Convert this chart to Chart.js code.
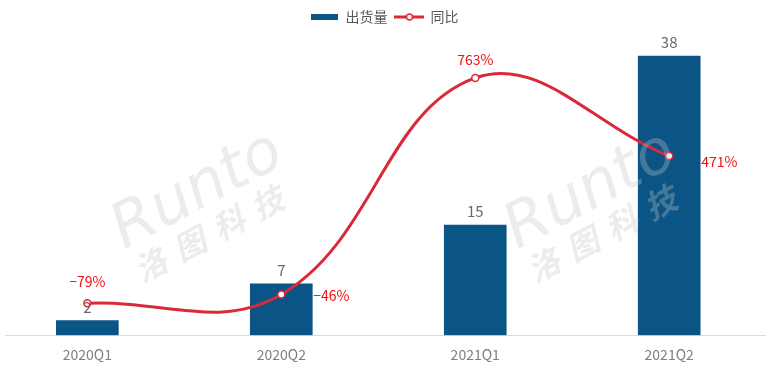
<!DOCTYPE html>
<html>
<head>
<meta charset="utf-8">
<script src="https://cdn.jsdelivr.net/npm/chart.js@4.4.1/dist/chart.umd.min.js"></script>
<style>
  html, body { margin: 0; padding: 0; background: #fff; }
  #wrap { width: 779px; height: 375px; position: relative; }
</style>
</head>
<body>
<div id="wrap"><canvas id="shipChart"></canvas></div>
<script>
// 数据
const categories = ['2020Q1', '2020Q2', '2021Q1', '2021Q2'];
const shipments = [2, 7, 15, 38];
const yoy = [-79, -46, 763, 471];
const legendNames = ['出货量', '同比'];

const colorBlue = '#0B5486';
const colorRed = '#DA2A3A';
const colorText = '#7F7F7F';
const fontFamily = '"Noto Sans CJK SC", "Noto Sans", sans-serif';

// legend icons
function makeBarIcon() {
    const c = document.createElement('canvas');
    c.width = 27; c.height = 6;
    const g = c.getContext('2d');
    g.fillStyle = colorBlue;
    g.fillRect(0, 0, 27, 6);
    return c;
}
function makeLineIcon() {
    const c = document.createElement('canvas');
    c.width = 30; c.height = 10;
    const g = c.getContext('2d');
    g.strokeStyle = colorRed;
    g.lineWidth = 3;
    g.beginPath(); g.moveTo(0, 5); g.lineTo(30, 5); g.stroke();
    g.fillStyle = '#fff';
    g.lineWidth = 1.5;
    g.beginPath(); g.arc(15, 5, 3, 0, Math.PI * 2); g.fill(); g.stroke();
    return c;
}

// 水印
const watermark = {
    id: 'watermark',
    afterDatasetsDraw(chart) {
        const ctx = chart.ctx;
        [[198, 192], [591, 192]].forEach(([x, y]) => {
            ctx.save();
            ctx.translate(x, y);
            ctx.rotate(-28 * Math.PI / 180);
            ctx.fillStyle = 'rgba(195,195,195,0.32)';
            ctx.textAlign = 'center';
            ctx.font = 'italic 62px "DejaVu Sans", sans-serif';
            ctx.fillText('Runto', 0, 0);
            ctx.font = 'italic bold 32px "Noto Sans CJK SC", sans-serif';
            ctx.letterSpacing = '12px';
            ctx.fillText('洛图科技', -4, 42);
            ctx.restore();
        });
    }
};

// 数据标签
const valueLabels = {
    id: 'valueLabels',
    afterDatasetsDraw(chart) {
        const ctx = chart.ctx;
        ctx.save();
        const bars = chart.getDatasetMeta(0).data;
        ctx.font = '15px ' + fontFamily;
        ctx.fillStyle = '#6A6A6A';
        ctx.textAlign = 'center';
        ctx.textBaseline = 'bottom';
        bars.forEach((b, i) => {
            ctx.fillText(String(shipments[i]), b.x, b.y - 6);
        });
        const pts = chart.getDatasetMeta(1).data;
        ctx.font = '14px ' + fontFamily;
        ctx.fillStyle = '#F01010';
        const place = ['top', 'right', 'top', 'right'];
        const dy = [-4, 1, 0, 6];
        pts.forEach((p, i) => {
            const v = yoy[i];
            const txt = (v < 0 ? '\u2212' + Math.abs(v) : v) + '%';
            if (place[i] === 'top') {
                ctx.textAlign = 'center';
                ctx.textBaseline = 'bottom';
                ctx.fillText(txt, p.x, p.y - 11 + dy[i]);
            } else {
                ctx.textAlign = 'left';
                ctx.textBaseline = 'middle';
                ctx.fillText(txt, bars[i].x + bars[i].width / 2 + 1, p.y + dy[i]);
            }
        });
        ctx.restore();
    }
};

const ctx = document.getElementById('shipChart').getContext('2d');
new Chart(ctx, {
    data: {
        datasets: [{
            type: 'bar',
            label: legendNames[0],
            data: shipments.map((v, i) => ({ x: i, y: v })),
            backgroundColor: colorBlue,
            barThickness: 62,
            yAxisID: 'y',
            order: 2
        }, {
            type: 'line',
            label: legendNames[1],
            data: yoy.map((v, i) => ({ x: i, y: v })),
            borderColor: colorRed,
            borderWidth: 3,
            tension: 0.4,
            pointRadius: 3.5,
            pointBorderWidth: 1.5,
            pointBackgroundColor: '#fff',
            pointBorderColor: colorRed,
            yAxisID: 'y2',
            order: 1
        }]
    },
    options: {
        responsive: true,
        maintainAspectRatio: false,
        animation: false,
        layout: { padding: { left: 4, right: 14, top: 2, bottom: 9 } },
        scales: {
            x: {
                type: 'linear',
                offset: false,
                min: -0.422,
                max: 3.494,
                afterBuildTicks: s => { s.ticks = categories.map((c, i) => ({ value: i })); },
                ticks: {
                    callback: v => categories[v],
                    color: colorText,
                    font: { family: fontFamily, size: 14 },
                    padding: 3
                },
                grid: { display: false, offset: false },
                border: { display: true, color: '#D9D9D9', width: 1 }
            },
            y: {
                display: false,
                min: 0,
                max: 41
            },
            y2: {
                display: false,
                min: -198,
                max: 927
            }
        },
        plugins: {
            legend: {
                position: 'top',
                labels: {
                    usePointStyle: true,
                    pointStyleWidth: 28,
                    padding: 8,
                    color: '#595959',
                    font: { family: fontFamily, size: 14 },
                    generateLabels: chart => {
                        const items = Chart.defaults.plugins.legend.labels.generateLabels(chart);
                        items.sort((a, b) => a.datasetIndex - b.datasetIndex);
                        items.forEach(it => {
                            it.pointStyle = it.datasetIndex === 0 ? makeBarIcon() : makeLineIcon();
                        });
                        return items;
                    }
                }
            },
            tooltip: { enabled: false }
        }
    },
    plugins: [watermark, valueLabels]
});
</script>
</body>
</html>
